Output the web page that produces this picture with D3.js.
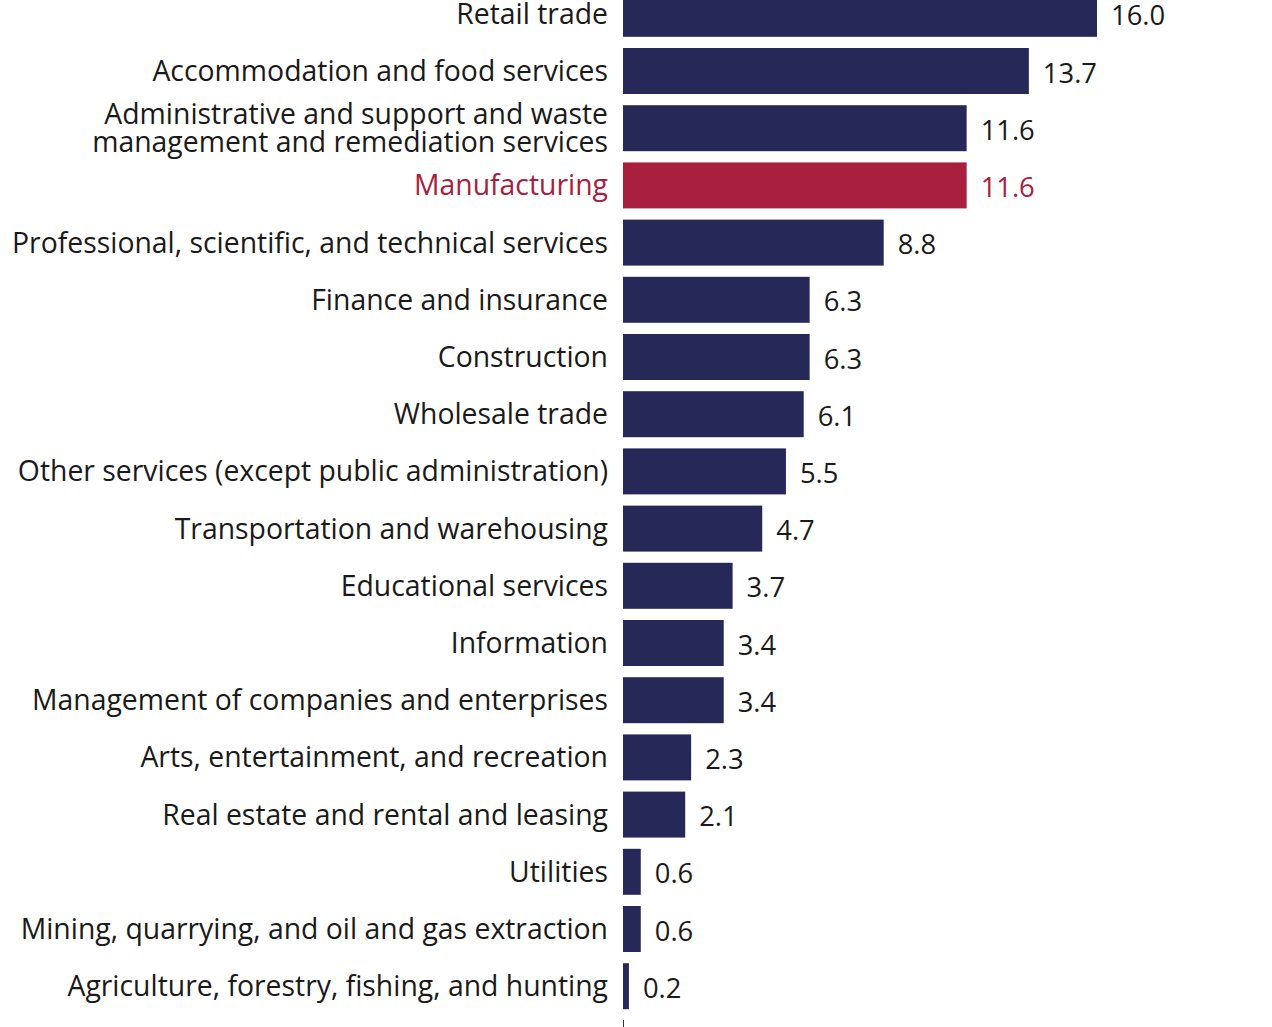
<!DOCTYPE html>
<html><head><meta charset="utf-8">
<script src="https://cdn.jsdelivr.net/npm/d3@7"></script>
<style>body{margin:0;background:#fff;overflow:hidden}</style>
</head><body>
<svg id="chart" width="1272" height="1027"></svg>
<script>
const categories = [
  "Retail trade",
  "Accommodation and food services",
  "Administrative and support and waste|management and remediation services",
  "Manufacturing",
  "Professional, scientific, and technical services",
  "Finance and insurance",
  "Construction",
  "Wholesale trade",
  "Other services (except public administration)",
  "Transportation and warehousing",
  "Educational services",
  "Information",
  "Management of companies and enterprises",
  "Arts, entertainment, and recreation",
  "Real estate and rental and leasing",
  "Utilities",
  "Mining, quarrying, and oil and gas extraction",
  "Agriculture, forestry, fishing, and hunting"
];
const values = [16.0, 13.7, 11.6, 11.6, 8.8, 6.3, 6.3, 6.1, 5.5, 4.7, 3.7, 3.4, 3.4, 2.3, 2.1, 0.6, 0.6, 0.2];
const highlight = "Manufacturing";

const svg = d3.select("#chart");
const x0 = 623;
const x = d3.scaleLinear().domain([0, 16]).range([x0, 1097]);
const pi = 0.196;
const y = d3.scaleBand().domain(categories).range([-14.8, 1014.8]).paddingInner(pi).paddingOuter(pi / 2);

const navy = "#262858", red = "#a8203e", ink = "#1a1a1a";
const font = "'Open Sans', sans-serif";

// fit font size so the longest label spans like the reference
const probe = svg.append("text").attr("font-family", font).attr("font-size", 26)
  .text("Professional, scientific, and technical services");
const w = probe.node().getComputedTextLength();
probe.remove();
const fs = Math.max(20, Math.min(30, 26 * 596 / w));

const data = categories.map((c, i) => ({c, v: values[i]}));

svg.selectAll("rect.bar").data(data).join("rect")
  .attr("class", "bar")
  .attr("x", x(0))
  .attr("y", d => y(d.c))
  .attr("width", d => x(d.v) - x(0))
  .attr("height", y.bandwidth())
  .attr("fill", d => d.c === highlight ? red : navy);

const labels = svg.selectAll("text.cat").data(data).join("text")
  .attr("class", "cat")
  .attr("text-anchor", "end")
  .attr("font-family", font)
  .attr("font-size", fs)
  .attr("fill", d => d.c === highlight ? red : ink)
  .attr("x", 608)
  .attr("y", d => y(d.c) + y.bandwidth() / 2);
labels.each(function(d) {
  const lines = d.c.split("|");
  const t = d3.select(this);
  const lh = 28;
  lines.forEach((ln, i) => {
    t.append("tspan").attr("x", 608)
      .attr("dy", i === 0 ? (fs * 0.35 - (lines.length - 1) * lh / 2) : lh)
      .text(ln);
  });
});

svg.selectAll("text.val").data(data).join("text")
  .attr("class", "val")
  .attr("font-family", font)
  .attr("font-size", fs - 1)
  .attr("fill", d => d.c === highlight ? red : ink)
  .attr("x", d => x(d.v) + 14)
  .attr("y", d => y(d.c) + y.bandwidth() / 2 + 2)
  .attr("dy", "0.35em")
  .text(d => d3.format(".1f")(d.v));

svg.append("line").attr("x1", x0 + 0.5).attr("x2", x0 + 0.5)
  .attr("y1", 1020).attr("y2", 1027).attr("stroke", "#333").attr("stroke-width", 1);
</script>
</body></html>
